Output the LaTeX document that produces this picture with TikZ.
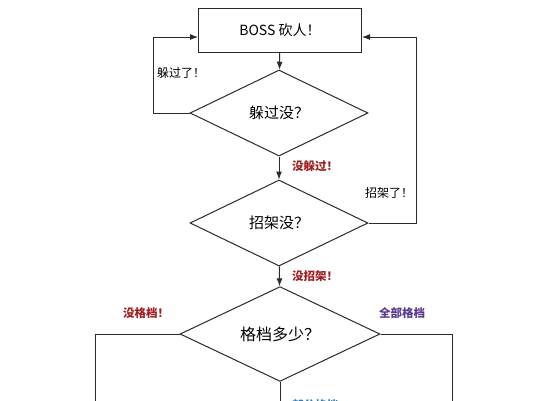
\documentclass[tikz,border=0pt]{standalone}
\usepackage{fontspec}
\setmainfont{Noto Sans CJK SC}
\usetikzlibrary{arrows.meta,shapes.geometric}
\definecolor{line}{HTML}{2A2A2A}
\definecolor{nored}{HTML}{A02020}
\definecolor{allpur}{HTML}{5A3B8E}
\definecolor{partblue}{HTML}{2C7DB8}
\tikzset{box/.style={draw=line,line width=1pt,align=center,font=\fontsize{14}{16}\selectfont,minimum width=163pt,minimum height=44pt,inner sep=0pt}, decision/.style={diamond,draw=line,line width=1pt,align=center,font=\fontsize{15}{17}\selectfont,minimum width=178pt,minimum height=86pt,inner sep=0pt}, arr/.style={-{Latex[length=8pt,width=6pt]},draw=line,line width=1pt}, seg/.style={draw=line,line width=1pt}, lab/.style={font=\fontsize{12}{14}\selectfont,inner sep=0pt}, hot/.style={lab,font=\fontsize{11.5}{14}\selectfont\bfseries}}

\begin{document}
\begin{tikzpicture}[x=1pt,y=-1pt]
\useasboundingbox[fill=white](0,0) rectangle (548,400);
\node[box] (boss) at (280,30) {BOSS 砍人！};
\node[decision] (dodge) at (279,113) {躲过没？};
\node[decision] (parry) at (279,223) {招架没？};
\node[decision,minimum width=200pt,minimum height=84pt,font=\fontsize{16}{18}\selectfont] (block) at (280,334) {格档多少？};
% loop corners and open ends
\coordinate (lt) at (153,37);
\coordinate (rt) at (416,37);
\coordinate (bl) at (95,430);
\coordinate (br) at (452,430);
\coordinate (bm) at (280,430);
\draw[arr](boss)--(dodge);
\draw[arr](dodge)--(parry);
\draw[arr](parry)--(block);
\draw[arr](dodge.west)-|(lt)--(lt-|boss.west);
\draw[arr](parry.east)-|(rt)--(rt-|boss.east);
\draw[seg](block.west)-|(bl);
\draw[seg](block.east)-|(br);
\draw[seg](block.south)--(bm);
% branch labels
\node[lab] (l1) at (181,73) {躲过了！};
\node[hot,text=nored] (l2) at (315,166) {没躲过！};
\node[lab] (l3) at (389,193) {招架了！};
\node[hot,text=nored] (l4) at (315,276) {没招架！};
\node[hot,text=nored] (l5) at (146,313) {没格档！};
\node[hot,text=allpur] (l6) at (402,313) {全部格档};
\node[hot,text=partblue,anchor=west] (l7) at (292,405) {部分格档};
\end{tikzpicture}
\end{document}
